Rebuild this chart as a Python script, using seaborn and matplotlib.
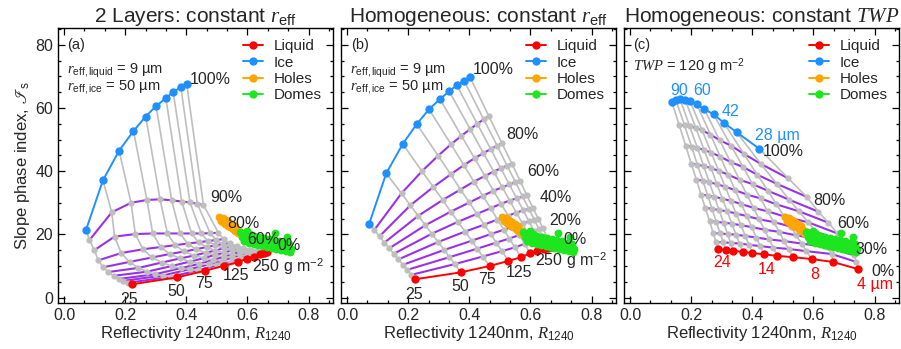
"""Slope phase index vs 1240 nm reflectivity for mixed-phase cloud models."""

import matplotlib
matplotlib.use("Agg")
import matplotlib.pyplot as plt
from matplotlib.lines import Line2D
from matplotlib.ticker import MultipleLocator
import seaborn as sns

# ---- panel (a): 2 layers, constant r_eff (columns: TWP 25..250 g m-2) ----
A_LIQ_X = [0.221, 0.369, 0.461, 0.524, 0.568, 0.598, 0.622, 0.641, 0.654, 0.663]
A_LIQ_Y = [4.2, 6.4, 8.5, 10.1, 11.2, 12.3, 13.0, 13.7, 14.1, 14.3]
A_ICE_X = [0.072, 0.127, 0.180, 0.227, 0.267, 0.301, 0.333, 0.357, 0.382, 0.401]
A_ICE_Y = [21.5, 37.1, 46.5, 52.7, 57.3, 60.6, 63.1, 65.0, 66.6, 67.7]
# mixed rows, 10 % .. 90 % ice
A_MIX_X = [
    [0.209, 0.349, 0.438, 0.501, 0.545, 0.576, 0.602, 0.622, 0.636, 0.647],
    [0.194, 0.324, 0.411, 0.473, 0.517, 0.550, 0.577, 0.599, 0.615, 0.628],
    [0.178, 0.298, 0.381, 0.442, 0.488, 0.522, 0.550, 0.574, 0.592, 0.608],
    [0.162, 0.271, 0.352, 0.412, 0.458, 0.493, 0.524, 0.549, 0.570, 0.587],
    [0.145, 0.243, 0.320, 0.379, 0.425, 0.463, 0.495, 0.522, 0.545, 0.565],
    [0.128, 0.214, 0.288, 0.346, 0.393, 0.432, 0.466, 0.495, 0.520, 0.543],
    [0.112, 0.187, 0.258, 0.316, 0.363, 0.404, 0.440, 0.470, 0.497, 0.522],
    [0.099, 0.165, 0.233, 0.290, 0.338, 0.380, 0.417, 0.449, 0.478, 0.505],
    [0.083, 0.156, 0.219, 0.271, 0.314, 0.352, 0.385, 0.412, 0.436, 0.456],
]
A_MIX_Y = [
    [4.7, 6.6, 8.6, 10.2, 11.3, 12.5, 13.1, 13.9, 14.3, 14.6],
    [5.3, 7.0, 9.0, 10.5, 11.6, 12.7, 13.4, 14.2, 14.6, 14.8],
    [5.9, 7.4, 9.3, 10.7, 11.9, 12.9, 13.7, 14.5, 14.9, 15.2],
    [6.9, 8.2, 10.0, 11.4, 12.5, 13.5, 14.2, 15.0, 15.4, 15.8],
    [8.1, 9.4, 11.1, 12.4, 13.3, 14.2, 14.9, 15.6, 16.1, 16.3],
    [9.6, 11.3, 12.7, 13.8, 14.6, 15.3, 16.0, 16.5, 17.0, 17.2],
    [11.8, 14.1, 15.3, 16.0, 16.6, 17.1, 17.5, 17.9, 18.2, 18.5],
    [15.0, 19.3, 20.1, 20.3, 20.3, 20.3, 20.3, 20.3, 20.4, 20.5],
    [18.2, 27.0, 30.0, 30.9, 31.1, 30.8, 30.4, 30.1, 29.7, 29.3],
]

# ---- panel (b): homogeneous, constant r_eff ----
B_LIQ_X = [0.222, 0.372, 0.466, 0.528, 0.569, 0.599, 0.623, 0.643, 0.659, 0.670]
B_LIQ_Y = [5.8, 8.0, 10.0, 11.6, 12.8, 14.0, 14.8, 15.4, 15.8, 16.0]
B_ICE_X = [0.072, 0.128, 0.182, 0.228, 0.268, 0.304, 0.334, 0.359, 0.383, 0.402]
B_ICE_Y = [23.3, 39.3, 48.6, 54.9, 59.6, 62.8, 65.3, 67.2, 68.6, 69.8]
B_MIX_X = [
    [0.210, 0.352, 0.444, 0.507, 0.549, 0.581, 0.606, 0.627, 0.644, 0.655],
    [0.197, 0.335, 0.426, 0.488, 0.531, 0.564, 0.590, 0.611, 0.628, 0.641],
    [0.183, 0.318, 0.408, 0.470, 0.513, 0.547, 0.574, 0.595, 0.613, 0.626],
    [0.168, 0.298, 0.386, 0.449, 0.492, 0.527, 0.554, 0.577, 0.595, 0.608],
    [0.153, 0.277, 0.363, 0.425, 0.470, 0.504, 0.532, 0.555, 0.574, 0.588],
    [0.138, 0.256, 0.339, 0.400, 0.444, 0.479, 0.508, 0.531, 0.551, 0.566],
    [0.122, 0.233, 0.313, 0.371, 0.415, 0.451, 0.480, 0.503, 0.523, 0.539],
    [0.106, 0.207, 0.282, 0.339, 0.382, 0.417, 0.446, 0.470, 0.491, 0.507],
    [0.089, 0.178, 0.245, 0.298, 0.340, 0.374, 0.403, 0.426, 0.447, 0.464],
]
B_MIX_Y = [
    [7.2, 10.6, 13.0, 14.7, 15.9, 17.0, 17.7, 18.3, 18.7, 19.0],
    [8.8, 12.8, 15.5, 17.4, 18.7, 19.8, 20.6, 21.2, 21.6, 21.9],
    [10.4, 15.1, 18.0, 20.1, 21.5, 22.6, 23.5, 24.1, 24.6, 24.9],
    [12.1, 17.6, 20.9, 23.1, 24.7, 25.9, 26.9, 27.6, 28.1, 28.4],
    [13.9, 20.2, 24.0, 26.5, 28.3, 29.7, 30.7, 31.4, 32.0, 32.4],
    [15.6, 22.9, 27.2, 30.1, 32.2, 33.8, 34.9, 35.8, 36.6, 37.0],
    [17.4, 25.9, 30.9, 34.2, 36.7, 38.5, 39.9, 40.9, 41.8, 42.4],
    [19.4, 29.2, 35.0, 39.0, 41.9, 44.1, 45.7, 47.0, 48.1, 48.8],
    [21.4, 33.0, 40.0, 44.9, 48.5, 51.2, 53.3, 55.0, 56.4, 57.4],
]

# ---- panel (c): homogeneous, constant TWP = 120 g m-2 (columns: r_eff) ----
C_LIQ_X = [0.289, 0.313, 0.338, 0.368, 0.400, 0.438, 0.482, 0.534, 0.594, 0.663, 0.747]
C_LIQ_Y = [15.3, 15.1, 14.8, 14.5, 14.1, 13.7, 13.2, 12.8, 12.2, 11.3, 9.0]
C_ICE_X = [0.136, 0.150, 0.164, 0.180, 0.196, 0.218, 0.243, 0.273, 0.307, 0.349, 0.423]
C_ICE_Y = [62.0, 62.5, 62.7, 62.6, 62.2, 61.2, 59.6, 58.0, 55.3, 52.3, 47.1]
C_MIX_X = [
    [0.281, 0.305, 0.329, 0.358, 0.389, 0.426, 0.469, 0.519, 0.577, 0.660, 0.740],
    [0.272, 0.295, 0.319, 0.347, 0.377, 0.413, 0.455, 0.504, 0.561, 0.645, 0.733],
    [0.260, 0.282, 0.306, 0.333, 0.363, 0.398, 0.440, 0.488, 0.544, 0.629, 0.722],
    [0.246, 0.268, 0.291, 0.318, 0.347, 0.382, 0.422, 0.470, 0.525, 0.608, 0.704],
    [0.232, 0.254, 0.276, 0.302, 0.330, 0.364, 0.404, 0.450, 0.504, 0.583, 0.679],
    [0.217, 0.238, 0.259, 0.284, 0.311, 0.344, 0.382, 0.427, 0.479, 0.553, 0.649],
    [0.200, 0.220, 0.241, 0.265, 0.290, 0.321, 0.358, 0.401, 0.451, 0.520, 0.616],
    [0.182, 0.201, 0.220, 0.242, 0.265, 0.295, 0.329, 0.370, 0.416, 0.480, 0.578],
    [0.161, 0.178, 0.195, 0.215, 0.236, 0.263, 0.293, 0.330, 0.372, 0.428, 0.518],
]
C_MIX_Y = [
    [17.6, 17.5, 17.3, 17.1, 16.7, 16.3, 15.8, 15.4, 14.7, 13.8, 11.3],
    [20.4, 20.3, 20.1, 19.9, 19.5, 19.0, 18.4, 17.9, 17.1, 16.0, 13.4],
    [24.2, 24.0, 23.7, 23.4, 22.9, 22.3, 21.5, 20.8, 19.7, 18.3, 15.6],
    [28.4, 28.1, 27.7, 27.3, 26.6, 25.8, 24.8, 23.9, 22.5, 20.8, 17.7],
    [32.6, 32.3, 31.9, 31.3, 30.6, 29.6, 28.4, 27.3, 25.7, 23.8, 20.3],
    [37.3, 37.0, 36.5, 35.9, 35.1, 34.0, 32.6, 31.4, 29.5, 27.3, 23.7],
    [42.4, 42.1, 41.6, 41.0, 40.1, 38.9, 37.3, 35.9, 33.8, 31.0, 27.2],
    [48.0, 47.8, 47.4, 46.7, 45.9, 44.6, 42.9, 41.3, 38.9, 36.0, 31.9],
    [54.5, 54.5, 54.2, 53.7, 52.9, 51.6, 49.8, 48.1, 45.5, 42.3, 37.7],
]

# ---- observations (same in every panel) ----
HOLES_X = [0.508, 0.516, 0.524, 0.532, 0.540, 0.548, 0.556, 0.564, 0.572,
           0.512, 0.520, 0.528, 0.536, 0.544, 0.552, 0.560, 0.568,
           0.520, 0.530, 0.540, 0.550, 0.560]
HOLES_Y = [25.4, 24.9, 24.3, 23.8, 23.3, 22.7, 22.2, 21.6, 21.1,
           24.3, 23.8, 23.3, 22.7, 22.2, 21.7, 21.1, 20.6,
           25.2, 24.5, 23.9, 23.3, 22.7]
DOMES_X = [0.575, 0.591, 0.607, 0.623, 0.639, 0.655, 0.671, 0.687, 0.703, 0.719, 0.735,
           0.583, 0.599, 0.615, 0.631, 0.647, 0.663, 0.679, 0.695, 0.711, 0.727, 0.743,
           0.590, 0.605, 0.620, 0.635, 0.650, 0.665, 0.680, 0.695, 0.710, 0.725, 0.740,
           0.690, 0.730, 0.600, 0.705]
DOMES_Y = [20.7, 20.3, 20.0, 19.6, 19.2, 18.9, 18.5, 18.1, 17.8, 17.4, 17.0,
           19.2, 18.9, 18.5, 18.1, 17.7, 17.4, 17.0, 16.6, 16.3, 15.9, 15.5,
           17.8, 17.4, 17.1, 16.7, 16.4, 16.0, 15.7, 15.3, 15.0, 14.7, 14.3,
           20.3, 19.1, 21.2, 15.3]

# ---- labels ----
TITLES = ["2 Layers: constant $r_{\\rm eff}$", "Homogeneous: constant $r_{\\rm eff}$",
          "Homogeneous: constant $TWP$"]
PANEL_TAGS = ["(a)", "(b)", "(c)"]
A_PCT = [(0.410, 69.0, "100%"), (0.478, 31.8, "90%"), (0.533, 23.5, "80%"),
         (0.600, 18.5, "60%"), (0.697, 16.6, "0%")]
A_TWP = [(0.183, -0.5, "25"), (0.337, 2.0, "50"), (0.430, 4.5, "75"),
         (0.520, 7.0, "125"), (0.615, 9.9, "250 g m$^{-2}$")]
B_PCT = [(0.410, 72.1, "100%"), (0.520, 51.5, "80%"), (0.590, 40.0, "60%"),
         (0.630, 31.6, "40%"), (0.660, 24.5, "20%"), (0.707, 18.5, "0%")]
B_TWP = [(0.190, 1.1, "25"), (0.340, 3.4, "50"), (0.430, 5.6, "75"),
         (0.520, 8.1, "125"), (0.615, 11.7, "250 g m$^{-2}$")]
C_PCT = [(0.435, 46.2, "100%"), (0.600, 30.7, "80%"), (0.677, 23.3, "60%"),
         (0.736, 15.2, "30%"), (0.790, 8.4, "0%")]
C_ICE_LBL = [(0.131, 65.5, "90"), (0.206, 65.5, "60"), (0.300, 59.0, "42"),
             (0.410, 51.2, "28 µm")]
C_LIQ_LBL = [(0.272, 11.0, "24"), (0.419, 8.9, "14"), (0.589, 7.3, "8"),
             (0.743, 4.2, "4 µm")]

RED, BLUE, ORANGE, GREEN = "#ff0000", "#1e90ff", "#ffa500", "#1ee61e"
PURPLE, GRAY = "#9932e6", "#bebebe"


def draw_panel(ax, liq_x, liq_y, ice_x, ice_y, mix_x, mix_y):
    rows_x = [liq_x] + mix_x + [ice_x]
    rows_y = [liq_y] + mix_y + [ice_y]
    for k in range(len(liq_x)):
        ax.plot([r[k] for r in rows_x], [r[k] for r in rows_y],
                color=GRAY, lw=1.2, zorder=3)
    for rx, ry in zip(mix_x, mix_y):
        ax.plot(rx, ry, color=PURPLE, lw=1.5, zorder=2)
        ax.plot(rx, ry, ls="none", marker="o", ms=4.5, mew=0, color=GRAY, zorder=4)
    sns.lineplot(x=liq_x, y=liq_y, sort=False, estimator=None, color=RED, lw=1.4,
                 marker="o", markersize=6, markeredgewidth=0, ax=ax, zorder=5)
    sns.lineplot(x=ice_x, y=ice_y, sort=False, estimator=None, color=BLUE, lw=1.4,
                 marker="o", markersize=6, markeredgewidth=0, ax=ax, zorder=5)
    sns.scatterplot(x=HOLES_X, y=HOLES_Y, color=ORANGE, s=32, linewidth=0, ax=ax, zorder=6)
    sns.scatterplot(x=DOMES_X, y=DOMES_Y, color=GREEN, s=32, linewidth=0, ax=ax, zorder=6)


def main():
    sns.set_theme(style="ticks")
    plt.rcParams["font.family"] = ["Liberation Sans", "DejaVu Sans"]
    plt.rcParams["mathtext.fontset"] = "custom"
    plt.rcParams["mathtext.rm"] = "Liberation Sans"
    plt.rcParams["mathtext.it"] = "Liberation Serif:italic"
    plt.rcParams["mathtext.fallback"] = "stix"

    fig = plt.figure(figsize=(9.01, 3.49), dpi=100)
    lefts = [58 / 901, 341 / 901, 624 / 901]
    axes = [fig.add_axes([l, 46 / 349, 275 / 901, 275 / 349]) for l in lefts]

    data = [(A_LIQ_X, A_LIQ_Y, A_ICE_X, A_ICE_Y, A_MIX_X, A_MIX_Y),
            (B_LIQ_X, B_LIQ_Y, B_ICE_X, B_ICE_Y, B_MIX_X, B_MIX_Y),
            (C_LIQ_X, C_LIQ_Y, C_ICE_X, C_ICE_Y, C_MIX_X, C_MIX_Y)]
    pct = [A_PCT, B_PCT, C_PCT]

    for i, ax in enumerate(axes):
        draw_panel(ax, *data[i])
        ax.set_xlim(-0.02, 0.88)
        ax.set_ylim(-1.7, 85.3)
        ax.xaxis.set_major_locator(MultipleLocator(0.2))
        ax.xaxis.set_minor_locator(MultipleLocator(0.2 / 3))
        ax.yaxis.set_major_locator(MultipleLocator(20))
        ax.yaxis.set_minor_locator(MultipleLocator(5))
        ax.tick_params(which="both", direction="in", top=True, right=True,
                       labelsize=11.5, color="black", width=0.9)
        ax.tick_params(which="major", length=5)
        ax.tick_params(which="minor", length=2.5)
        for sp in ax.spines.values():
            sp.set_linewidth(1.0)
            sp.set_color("black")
        ax.set_xlabel("Reflectivity 1240nm, $R_{1240}$", fontsize=12, labelpad=1)
        ax.set_title(TITLES[i], fontsize=15, pad=4)
        ax.text(0.035, 0.965, PANEL_TAGS[i], transform=ax.transAxes,
                fontsize=10.5, ha="left", va="top")
        for x, y, s in pct[i]:
            ax.text(x, y, s, fontsize=11.5, ha="left", va="center", zorder=10)
        handles = [Line2D([], [], color=c, marker="o", ms=6, mew=0, lw=1.4)
                   for c in (RED, BLUE, ORANGE, GREEN)]
        ax.legend(handles, ["Liquid", "Ice", "Holes", "Domes"], loc="upper right",
                  frameon=False, fontsize=11, handlelength=1.3, handletextpad=0.7,
                  labelspacing=0.15, borderaxespad=0.35)
        if i > 0:
            ax.set_yticklabels([])

    axes[0].set_ylabel("Slope phase index, $ℐ_{\\rm s}$", fontsize=12, labelpad=2)

    for ax, twp in zip(axes[:2], [A_TWP, B_TWP]):
        for x, y, s in twp:
            ax.text(x, y, s, fontsize=11.5, ha="left", va="center", zorder=10)
        ax.text(0.01, 71.8, "$r_{\\rm eff,liquid}$ = 9 µm", fontsize=10.5, va="center")
        ax.text(0.01, 66.6, "$r_{\\rm eff,ice}$ = 50 µm", fontsize=10.5, va="center")

    axes[2].text(0.01, 73.0, "$TWP$ = 120 g m$^{-2}$", fontsize=10.5, va="center")
    for x, y, s in C_ICE_LBL:
        axes[2].text(x, y, s, fontsize=11.5, color=BLUE, ha="left", va="center", zorder=10)
    for x, y, s in C_LIQ_LBL:
        axes[2].text(x, y, s, fontsize=11.5, color=RED, ha="left", va="center", zorder=10)

    fig.savefig("out.png", dpi=100)


if __name__ == "__main__":
    main()
